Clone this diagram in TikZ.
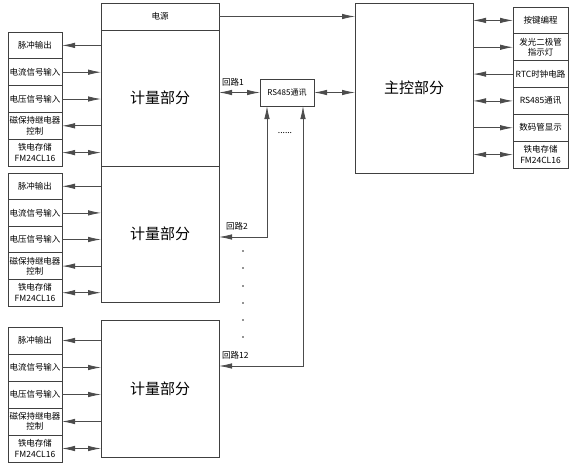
\documentclass[tikz,border=0pt]{standalone}
\usepackage{fontspec}
\setmainfont{Noto Sans CJK SC}
\usetikzlibrary{arrows.meta}
\begin{document}
\begin{tikzpicture}[x=1pt,y=-1pt,
  >={Latex[length=13pt,width=5.5pt]},
  frame/.style={draw=black!75, line width=0.8pt, inner sep=0pt, outer sep=0pt, align=center},
  sbox/.style={frame, minimum width=54pt, font=\fontsize{8.5}{10.5}\selectfont},
  rbox/.style={frame, minimum width=55pt, minimum height=26.83pt, font=\fontsize{8.5}{10.5}\selectfont},
  big/.style={frame, minimum width=118pt, font=\fontsize{15}{18}\selectfont},
  conn/.style={draw=black!70, line width=0.8pt},
  lbl/.style={font=\fontsize{8.5}{10}\selectfont, inner sep=0pt}]
\useasboundingbox (0,0) rectangle (574,469);
% power + meter blocks
\node[frame, minimum width=118pt, minimum height=27pt, anchor=north west, font=\fontsize{8.5}{10}\selectfont] (pw) at (101,3) {电源};
\node[big, minimum height=136pt, anchor=north west] (ma) at (101,30) {计量部分};
\node[big, minimum height=136pt, anchor=north west] (mb) at (101,166) {计量部分};
\node[big, minimum height=137pt, anchor=north west] (mc) at (101,320) {计量部分};
% main control
\node[big, minimum height=170pt, anchor=north west] (mcu) at (355,3) {主控部分};
% RS485
\node[frame, minimum width=54pt, minimum height=27pt, anchor=north west, font=\fontsize{8}{10}\selectfont] (rs) at (260,79) {RS485通讯};
% left groups
\foreach \g/\t/\h in {a/32/26.8, b/173/26.6, c/327/27} {
  \node[sbox, minimum height=\h pt, anchor=north west] (\g1) at (8,\t) {脉冲输出};
  \node[sbox, minimum height=\h pt, anchor=north] (\g2) at (\g1.south) {电流信号输入};
  \node[sbox, minimum height=\h pt, anchor=north] (\g3) at (\g2.south) {电压信号输入};
  \node[sbox, minimum height=\h pt, anchor=north] (\g4) at (\g3.south) {磁保持继电器\\控制};
  \node[sbox, minimum height=\h pt, anchor=north] (\g5) at (\g4.south) {铁电存储\\FM24CL16};
  \draw[conn,->] (\g1.east -| m\g.west) -- (\g1.east);
  \draw[conn,<-] (\g2.east -| m\g.west) -- (\g2.east);
  \draw[conn,<-] (\g3.east -| m\g.west) -- (\g3.east);
  \draw[conn,->] (\g4.east -| m\g.west) -- (\g4.east);
  \draw[conn,<->] (\g5.east -| m\g.west) -- (\g5.east);
}
% right group
\node[rbox, anchor=north west] (r1) at (513,7) {按键编程};
\node[rbox, anchor=north] (r2) at (r1.south) {发光二极管\\指示灯};
\node[rbox, anchor=north] (r3) at (r2.south) {RTC时钟电路};
\node[rbox, anchor=north] (r4) at (r3.south) {RS485通讯};
\node[rbox, anchor=north] (r5) at (r4.south) {数码管显示};
\node[rbox, anchor=north] (r6) at (r5.south) {铁电存储\\FM24CL16};
\draw[conn,<->] (mcu.east |- r1.west) -- (r1.west);
\draw[conn,->] (mcu.east |- r2.west) -- (r2.west);
\draw[conn,<-] (mcu.east |- r3.west) -- (r3.west);
\draw[conn,<->] (mcu.east |- r4.west) -- (r4.west);
\draw[conn,->] (mcu.east |- r5.west) -- (r5.west);
\draw[conn,<->] (mcu.east |- r6.west) -- (r6.west);
% power line
\draw[conn,->] (pw.east) -- (pw.east -| mcu.west);
% loop 1
\draw[conn,<->] (ma.east |- rs.west) -- (rs.west);
\draw[conn,<->] (rs.east) -- (rs.east -| mcu.west);
\node[lbl, anchor=south west] (l1) at (222,86) {回路1};
% loop 2
\coordinate (c2) at (267,237);
\draw[conn,<->] (mb.east |- c2) -- (c2) -- (c2 |- rs.south);
\node[lbl, anchor=south west] (l2) at (226,230) {回路2};
% loop 12
\coordinate (c12) at (303,366);
\draw[conn,<->] (mc.east |- c12) -- (c12) -- (c12 |- rs.south);
\node[lbl, anchor=south west] (l12) at (222,359) {回路12};
% dots
\node[lbl] (hd) at (285,133) {......};
\foreach \y in {251,268,286,303,320,337} \fill[black!85] (243,\y) circle (0.8pt);
\end{tikzpicture}
\end{document}
